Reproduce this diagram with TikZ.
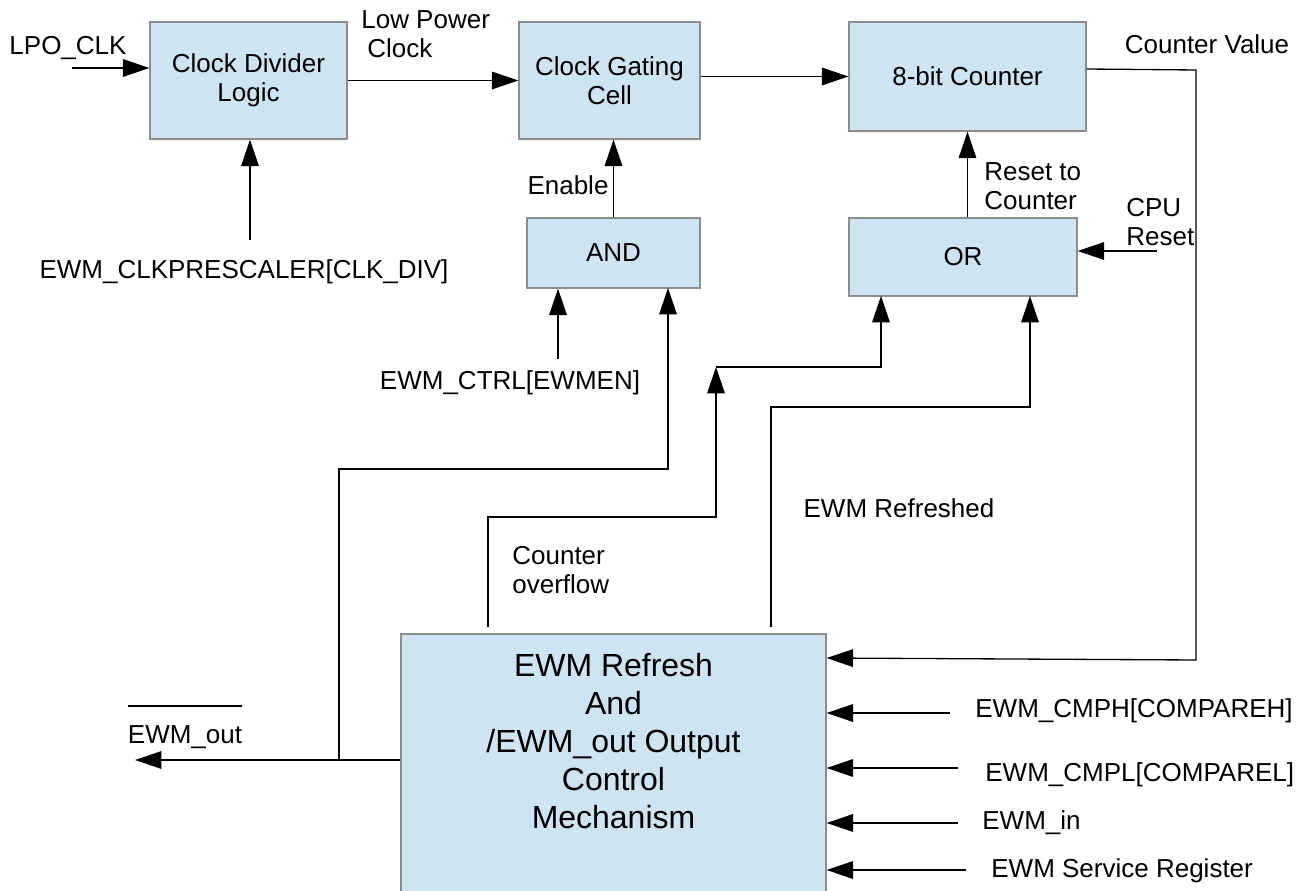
\documentclass[tikz,border=0pt]{standalone}
\usepackage{fontspec}
\setmainfont{Liberation Sans}
\usetikzlibrary{positioning,arrows.meta,calc}
\definecolor{blockfill}{RGB}{207,228,242}
\definecolor{blockline}{RGB}{140,140,140}

\begin{document}
\begin{tikzpicture}[x=0.02cm,y=-0.02cm,>={Triangle[length=15pt,width=10pt]},
  font={\fontsize{14.8}{16.5}\selectfont},
  block/.style={draw=blockline,fill=blockfill,line width=0.8pt,align=center,inner sep=0pt},
  wire/.style={line width=0.75pt},
  lbl/.style={inner sep=0pt,align=left}]
\useasboundingbox (0,0) rectangle (1305,891);

% blocks
\node[block,minimum width=3.94cm,minimum height=2.34cm] (div) at (248.5,80.5) {Clock Divider\\Logic};
\node[block,minimum width=3.62cm,minimum height=2.34cm] (gate) at (609.5,80.5) {Clock Gating\\Cell};
\node[block,minimum width=4.74cm,minimum height=2.18cm] (cnt) at (967.5,76.5) {8-bit Counter};
\node[block,minimum width=3.46cm,minimum height=1.40cm] (and) at (613.5,253) {AND};
\node[block,minimum width=4.56cm,minimum height=1.56cm] (or) at (963,257) {OR};
\node[block,minimum width=8.50cm,minimum height=5.32cm] (ewm) at (613.5,767) {};
\node[align=center,font={\fontsize{18.2}{21.6}\selectfont}] (ewmtxt) at (613.5,741)
  {EWM Refresh\\And\\/EWM\_out Output\\Control\\Mechanism};

% labels
\node[lbl] (lpo) at (68,48) {LPO\_CLK};
\node[lbl,anchor=west] (lpc) at (361,34) {Low Power\\\hspace*{0.12cm}Clock};
\node[lbl] (presc) at (244,272) {EWM\_CLKPRESCALER[CLK\_DIV]};
\node[lbl] (enable) at (568,185) {Enable};
\node[lbl] (ctrl) at (510,383) {EWM\_CTRL[EWMEN]};
\node[lbl,anchor=west] (rst) at (984,186) {Reset to\\Counter};
\node[lbl,anchor=west] (cpu) at (1126,222) {CPU\\Reset};
\node[lbl] (cval) at (1207,44) {Counter Value};
\node[lbl] (refr) at (899,508) {EWM Refreshed};
\node[lbl,anchor=west] (ovf) at (512,570) {Counter\\overflow};
\node[lbl] (outlbl) at (185,737) {EWM\_out};
\node[lbl,anchor=west] (cmph) at (975,711) {EWM\_CMPH[COMPAREH]};
\node[lbl,anchor=west] (cmpl) at (985,775) {EWM\_CMPL[COMPAREL]};
\node[lbl,anchor=west] (ewmin) at (982,823) {EWM\_in};
\node[lbl,anchor=west] (srv) at (991,871) {EWM Service Register};

% free ends
\coordinate (lpoin) at (72,68);
\coordinate (prescin) at (250,240);
\coordinate (ctrlin) at (558,359);
\coordinate (outtip) at (135,760);
\coordinate (outjoin) at (339,760);
\coordinate (ovfsrc) at (488,627);
\coordinate (ovftip) at (716,367);
\coordinate (refsrc) at (771,627);
\coordinate (cpuin) at (1157,251);
\coordinate (cmphin) at (950,713);
\coordinate (cmplin) at (958,768);
\coordinate (ewminin) at (958,823);
\coordinate (srvin) at (966,870);

% connectors
\draw[wire,->] (lpoin) -- (lpoin -| div.west);
\draw[wire,->] (prescin) -- (prescin |- div.south);
\draw[wire,->] (div.east) -- (gate.west);
\draw[wire,->] (gate.east |- cnt.west) -- (cnt.west);
\draw[wire,->] (and.north) -- (and.north |- gate.south);
\draw[wire,->] (ctrlin) -- (ctrlin |- and.south);
\draw[wire,->] (ewm.west |- outtip) -- (outtip);
\draw[wire,->] (outjoin) -- (339,469) -- (668,469) -- (668,288);
\draw[wire,->] (ovfsrc) -- (488,517) -- (716,517) -- (ovftip);
\draw[wire,->] (ovftip) -- (881,367) -- (881,296);
\draw[wire,->] (refsrc) -- (771,407) -- (1030,407) -- (1030,296);
\draw[wire,->] (or.north -| cnt.south) -- (cnt.south);
\draw[wire,->] (cpuin) -- (cpuin -| or.east);
\draw[wire,->] (cnt.east |- 0,69) -- (1196,70) -- (1196,660) -- (ewm.east |- 0,658);
\foreach \src in {cmphin,cmplin,ewminin,srvin}
  \draw[wire,->] (\src) -- (\src -| ewm.east);
\draw[wire] ([yshift=0.38cm]outlbl.north west) -- ([yshift=0.38cm]outlbl.north east);
\end{tikzpicture}
\end{document}
